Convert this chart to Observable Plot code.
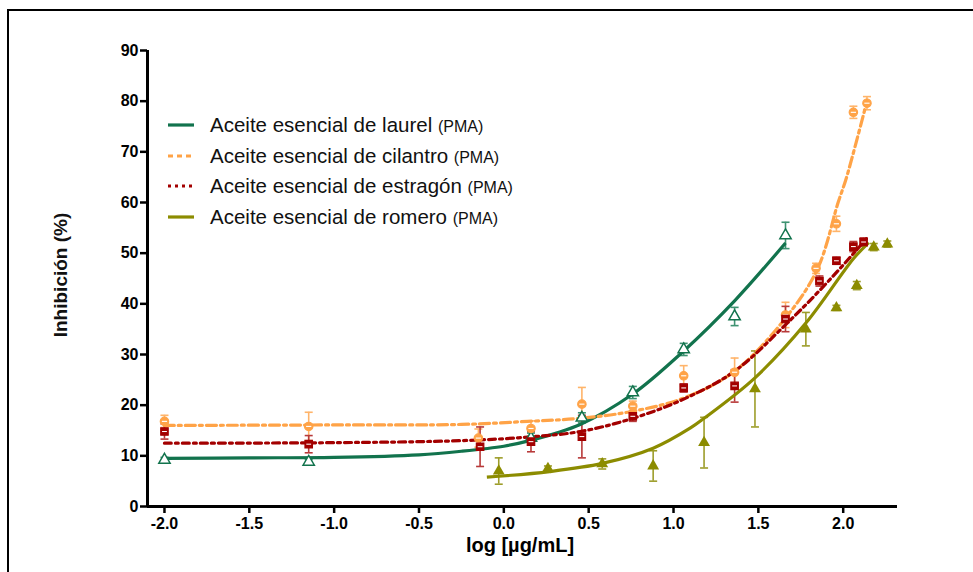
<!DOCTYPE html>
<html><head><meta charset="utf-8">
<script src="https://cdn.jsdelivr.net/npm/d3@7"></script>
<script src="https://cdn.jsdelivr.net/npm/@observablehq/plot@0.6"></script>
<style>
html,body{margin:0;padding:0;background:#fff;overflow:hidden}
#wrap{position:relative;width:973px;height:572px;overflow:hidden;background:#fff}
#frame{position:absolute;left:7px;top:9px;width:1000px;height:600px;border-top:2px solid #000;border-left:2px solid #000}
#chart{position:absolute;left:0;top:0}
</style></head><body><div id="wrap"><div id="frame"></div><div id="chart"></div></div>
<script>
// ---- Data ----
const xTicks = [-2.0, -1.5, -1.0, -0.5, 0.0, 0.5, 1.0, 1.5, 2.0];
const yTicks = [0, 10, 20, 30, 40, 50, 60, 70, 80, 90];
const xTitle = "log [µg/mL]";
const yTitle = "Inhibición (%)";

const seriesNames = ["Aceite esencial de laurel", "Aceite esencial de cilantro", "Aceite esencial de estragón", "Aceite esencial de romero"];
const seriesTag = "(PMA)";

// laurel
const laurelX   = [-2.0, -1.15, 0.16, 0.46, 0.76, 1.06, 1.36, 1.66];
const laurelY   = [9.2, 8.8, 13.5, 17.5, 22.5, 31.0, 37.5, 53.5];
const laurelErr = [0.5, 0.5, 1.0, 1.0, 1.2, 1.2, 1.8, 2.6];
const laurelCurveX = [-2.0, -1.5, -1.0, -0.5, -0.25, 0.0, 0.14, 0.45, 0.76, 1.06, 1.36, 1.66];
const laurelCurveY = [9.5, 9.6, 9.7, 10.2, 10.9, 11.9, 12.9, 16.2, 22.2, 30.7, 40.6, 52.0];

// cilantro
const cilantroX   = [-2.0, -1.15, -0.15, 0.16, 0.46, 0.76, 1.06, 1.36, 1.66, 1.84, 1.96, 2.06, 2.14];
const cilantroY   = [16.8, 15.8, 13.5, 15.4, 20.2, 19.8, 25.8, 26.5, 37.8, 47.0, 55.8, 77.8, 79.6];
const cilantroErr = [1.2, 2.8, 1.8, 1.5, 3.3, 1.0, 2.0, 2.8, 2.5, 1.0, 1.5, 1.2, 1.3];
const cilantroCurveX = [-2.0, -1.0, -0.25, 0.14, 0.45, 0.76, 1.06, 1.36, 1.67, 1.85, 1.97, 2.02, 2.14];
const cilantroCurveY = [16.0, 16.1, 16.2, 16.8, 17.4, 18.8, 21.4, 26.7, 37.6, 47.0, 60.0, 65.0, 80.0];

// estragón
const estragonX   = [-2.0, -1.15, -0.14, 0.16, 0.46, 0.76, 1.06, 1.36, 1.66, 1.86, 1.96, 2.06, 2.12];
const estragonY   = [14.8, 12.3, 11.8, 12.8, 13.8, 17.8, 23.4, 23.8, 37.0, 44.5, 48.5, 51.3, 52.2];
const estragonErr = [1.5, 1.7, 3.9, 2.0, 4.2, 1.0, 0.8, 3.2, 2.5, 1.0, 0.7, 1.0, 0.8];
const estragonCurveX = [-2.0, -1.0, -0.25, 0.14, 0.45, 0.76, 1.06, 1.36, 1.67, 1.86, 2.06, 2.14];
const estragonCurveY = [12.5, 12.6, 13.0, 13.7, 14.8, 17.4, 21.2, 26.7, 36.2, 42.6, 49.9, 53.0];

// romero
const romeroX   = [-0.03, 0.26, 0.58, 0.88, 1.18, 1.48, 1.78, 1.96, 2.08, 2.18, 2.26];
const romeroY   = [7.0, 7.5, 8.4, 8.0, 12.6, 23.2, 35.0, 39.2, 43.6, 51.2, 51.8];
const romeroErr = [2.6, 0.5, 1.0, 3.0, 5.0, 7.5, 3.3, 0.5, 0.8, 0.7, 0.6];
const romeroCurveX = [-0.1, 0.27, 0.58, 0.88, 1.1, 1.18, 1.48, 1.78, 2.06, 2.15];
const romeroCurveY = [5.8, 6.9, 8.5, 11.5, 15.5, 17.4, 25.4, 36.2, 48.9, 52.1];

// ---- styles ----
const colors    = ["#12734d", "#ffa347", "#a30000", "#8c8c00"];
const errColors = ["#3f9372", "#ffb46a", "#b83a3a", "#9d9d2a"];
const dashes    = [null, "10,4,3,4", "7,4,3,4", null];

const build = (xs, ys, es) => xs.map((x, i) => ({x, y: ys[i], e: es[i]}));
const buildC = (xs, ys) => xs.map((x, i) => ({x, y: ys[i]}));
const pts = [build(laurelX, laurelY, laurelErr), build(cilantroX, cilantroY, cilantroErr),
             build(estragonX, estragonY, estragonErr), build(romeroX, romeroY, romeroErr)];
const curves = [buildC(laurelCurveX, laurelCurveY), buildC(cilantroCurveX, cilantroCurveY),
                buildC(estragonCurveX, estragonCurveY), buildC(romeroCurveX, romeroCurveY)];

const cap = {draw(ctx, size) { const r = Math.sqrt(size / Math.PI); ctx.moveTo(-r, 0); ctx.lineTo(r, 0); }};
const bar = {draw(ctx, size) { const r = Math.sqrt(size / Math.PI); ctx.rect(-r, -r * 0.22, 2 * r, r * 0.44); }};

const marks = [];
pts.forEach((d, i) => {
  marks.push(Plot.ruleX(d, {x: "x", y1: p => p.y - p.e, y2: p => p.y + p.e, stroke: errColors[i], strokeWidth: 1.6}));
  marks.push(Plot.dot(d, {x: "x", y: p => p.y + p.e, symbol: cap, r: 4, stroke: errColors[i], strokeWidth: 1.6, fill: "none"}));
  marks.push(Plot.dot(d, {x: "x", y: p => p.y - p.e, symbol: cap, r: 4, stroke: errColors[i], strokeWidth: 1.6, fill: "none"}));
});
curves.forEach((d, i) => {
  marks.push(Plot.line(d, {x: "x", y: "y", curve: "catmull-rom", stroke: colors[i], strokeWidth: 3.2,
    strokeDasharray: dashes[i], strokeLinecap: i === 0 || i === 3 ? "butt" : "round"}));
});
// markers
marks.push(Plot.dot(pts[0], {x: "x", y: "y", symbol: "triangle", r: 4.2, stroke: colors[0], strokeWidth: 1.5, fill: "white"}));
marks.push(Plot.dot(pts[1], {x: "x", y: "y", symbol: "circle", r: 4.2, stroke: colors[1], strokeWidth: 1.2, fill: colors[1]}));
marks.push(Plot.dot(pts[1], {x: "x", y: "y", symbol: bar, r: 2.6, fill: "white"}));
marks.push(Plot.dot(pts[2], {x: "x", y: "y", symbol: "square", r: 4.2, stroke: colors[2], strokeWidth: 1.2, fill: colors[2]}));
marks.push(Plot.dot(pts[2], {x: "x", y: "y", symbol: bar, r: 2.4, fill: "white"}));
marks.push(Plot.dot(pts[3], {x: "x", y: "y", symbol: "triangle", r: 4.4, fill: colors[3]}));

const xDomain = [-2.1, 2.32];
const yDomain = [0, 90];
// axis lines
marks.push(Plot.ruleX([xDomain[0]], {y1: yDomain[0], y2: yDomain[1], stroke: "#000", strokeWidth: 3}));
marks.push(Plot.ruleY([yDomain[0]], {x1: xDomain[0], x2: xDomain[1], stroke: "#000", strokeWidth: 3}));
marks.push(Plot.axisY({ticks: yTicks, tickSize: 7, tickPadding: 2, strokeWidth: 2.5, label: null,
  tickFormat: d => String(d), fontWeight: "bold", fontSize: 16}));
marks.push(Plot.axisX({ticks: xTicks, tickSize: 7, tickPadding: 4, strokeWidth: 2.5, label: null,
  tickFormat: d => d.toFixed(1), fontWeight: "bold", fontSize: 16}));

const chart = Plot.plot({
  width: 973, height: 572,
  marginLeft: 147, marginRight: 76, marginTop: 50, marginBottom: 66,
  x: {domain: xDomain},
  y: {domain: yDomain},
  style: {fontFamily: "Liberation Sans, Arial, sans-serif", background: "transparent", color: "#000"},
  marks
});
document.getElementById("chart").appendChild(chart);

// titles and legend
const svg = d3.select(chart);
svg.append("text").attr("transform", "translate(67,275) rotate(-90)")
  .attr("text-anchor", "middle").attr("font-size", 19).attr("font-weight", "bold")
  .attr("font-family", "Liberation Sans, Arial, sans-serif").attr("fill", "#111").text(yTitle);
svg.append("text").attr("x", 520).attr("y", 552)
  .attr("text-anchor", "middle").attr("font-size", 20).attr("font-weight", "bold")
  .attr("font-family", "Liberation Sans, Arial, sans-serif").attr("fill", "#000").text(xTitle);

const legendY = [125, 156, 186, 217];
const legDash = [null, "5,4", "3,4", null];
seriesNames.forEach((name, i) => {
  svg.append("line").attr("x1", 168).attr("x2", 194).attr("y1", legendY[i]).attr("y2", legendY[i])
    .attr("stroke", colors[i]).attr("stroke-width", 3.2).attr("stroke-dasharray", legDash[i]);
  const t = svg.append("text").attr("x", 210).attr("y", legendY[i] + 7).attr("text-anchor", "start")
    .attr("font-family", "Liberation Sans, Arial, sans-serif").attr("fill", "#111");
  t.append("tspan").attr("font-size", 20.5).text(name + " ");
  t.append("tspan").attr("font-size", 16).text(seriesTag);
});
</script></body></html>
